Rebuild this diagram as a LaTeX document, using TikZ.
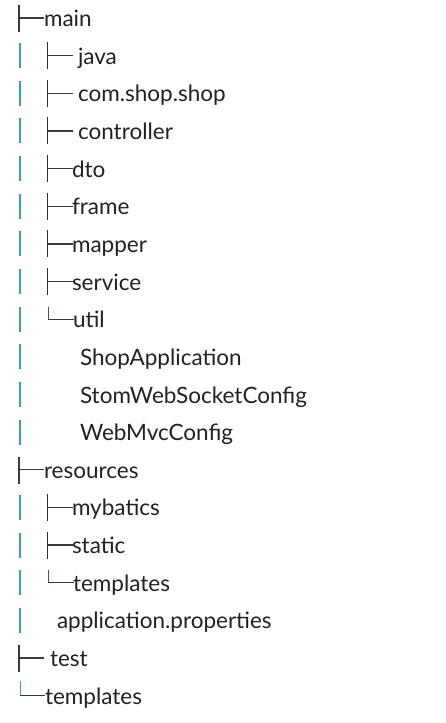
\documentclass[tikz,border=0pt]{standalone}
\usepackage{fontspec}
\setmainfont{Lato}
\definecolor{txt}{HTML}{222222}
\definecolor{barblue}{HTML}{3A9BD5}
\definecolor{darkbar}{HTML}{2A2A4A}
\definecolor{lastbar}{HTML}{7A3A7A}
\definecolor{hline}{HTML}{3A3A3A}
\begin{document}
\begin{tikzpicture}[x=1pt,y=-1pt,
  label/.style={anchor=base west,inner sep=0pt,outer sep=0pt,text=txt,font=\fontsize{22.5}{26}\selectfont},
  bluebar/.style={draw=barblue,line width=1.3pt},
  treebar/.style={draw=darkbar,line width=1.8pt},
  elbow/.style={draw=lastbar,line width=1pt},
  stub/.style={draw=hline,line width=1.3pt}]
\useasboundingbox (0,0) rectangle (445,723);
% level-0 blue continuation bars
\foreach \i in {1,...,11,13,14,15,16}{
  \draw[bluebar] (20,{18+37.65*\i-12.5}) -- (20,{18+37.65*\i+12.5});
}
% level-0 tee
\foreach \i/\e in {0/44,12/44,17/44}{
  \draw[draw=hline,line width=1.6pt] (19,{18+37.65*\i-13}) -- (19,{18+37.65*\i+14});
  \draw[stub] (19,{18+37.65*\i}) -- (\e,{18+37.65*\i});
}
% level-0 elbow
\draw[draw=barblue,line width=1pt] (20,{18+37.65*18-15}) -- (20,{18+37.65*18});
\draw[stub] (20,{18+37.65*18}) -- (45,{18+37.65*18});
% level-1 tee
\foreach \i in {1,...,7,13,14}{
  \draw[treebar] (47.5,{18+37.65*\i-13.5}) -- (47.5,{18+37.65*\i+13.5});
  \draw[stub] (47.5,{18+37.65*\i}) -- (73,{18+37.65*\i});
}
% level-1 elbow
\foreach \i in {8,15}{
  \draw[elbow] (48,{18+37.65*\i-12.5}) -- (48,{18+37.65*\i});
  \draw[stub] (48,{18+37.65*\i}) -- (74,{18+37.65*\i});
}
% labels
\foreach \i/\x/\t/\n in {
  0/44/main/n0, 1/78/java/n1, 2/78/com.shop.shop/n2, 3/78/controller/n3,
  4/72/dto/n4, 5/72/frame/n5, 6/72/mapper/n6, 7/72/service/n7, 8/73/util/n8,
  9/80/ShopApplication/n9, 10/80/StomWebSocketConfig/n10, 11/80/WebMvcConfig/n11,
  12/44/resources/n12, 13/72/mybatics/n13, 14/72/static/n14, 15/73/templates/n15,
  16/57/application.properties/n16, 17/50/test/n17, 18/45/templates/n18}{
  \node[label] (\n) at (\x,{18+37.65*\i+8.5}) {\t};
}
\end{tikzpicture}
\end{document}
